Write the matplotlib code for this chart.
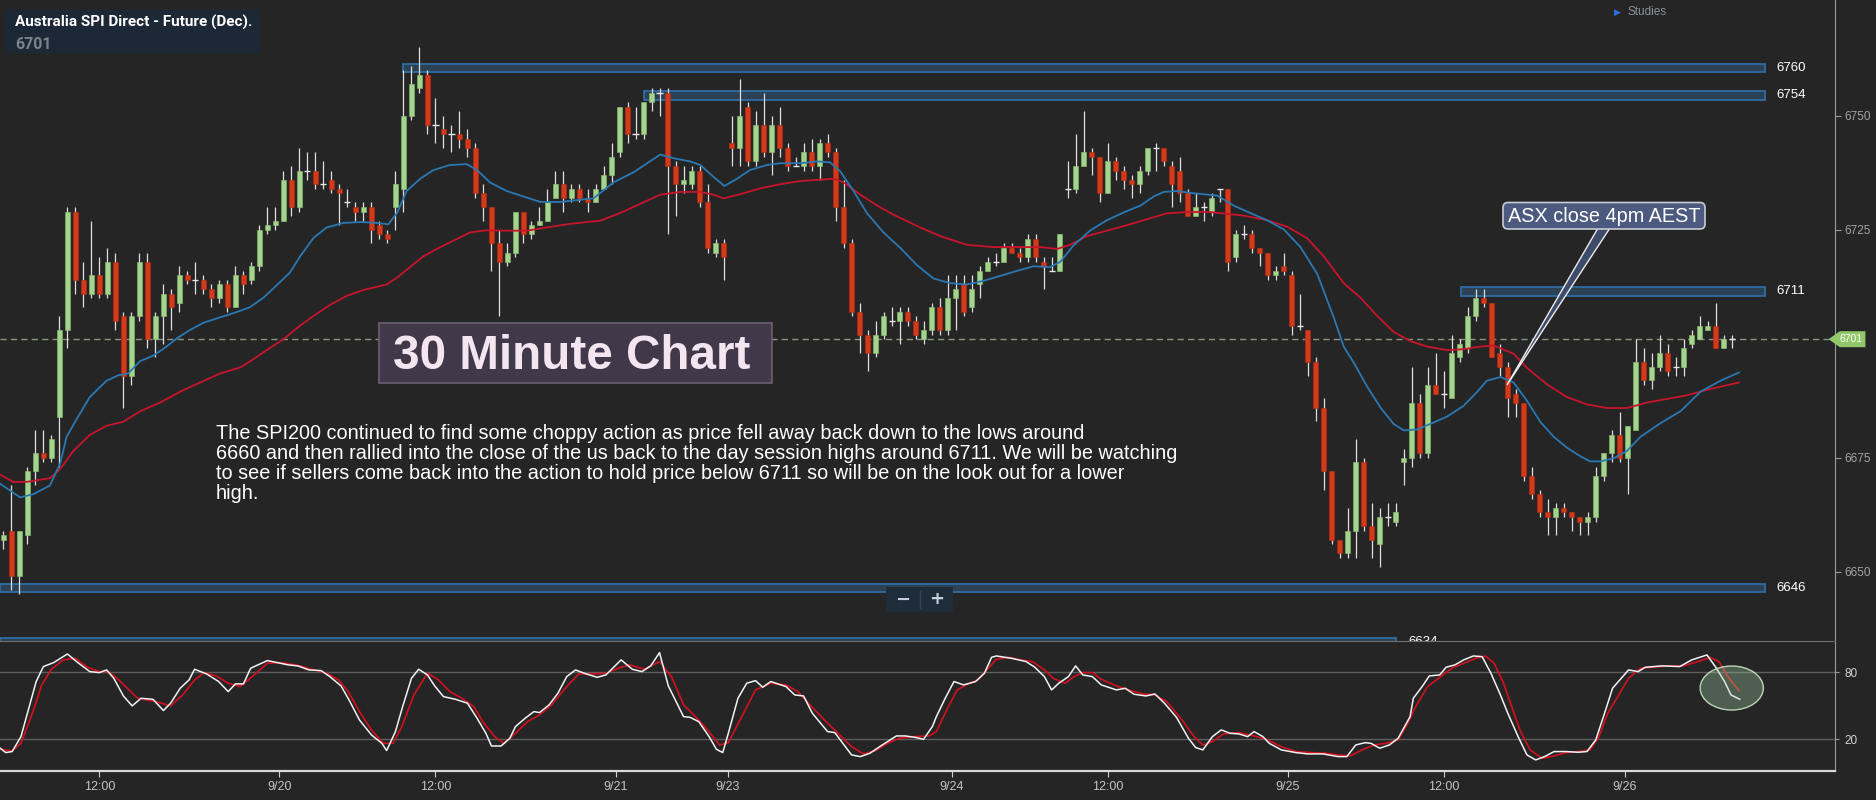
import matplotlib
matplotlib.use("Agg")
import matplotlib.pyplot as plt
from matplotlib.patches import Rectangle, FancyBboxPatch, Polygon, Ellipse
import numpy as np

plt.rcParams['font.family'] = ['Liberation Sans', 'DejaVu Sans']

# ---------------- data (30 minute bars) ----------------
opens = [
    6657, 6659, 6649, 6658, 6672, 6676, 6675, 6684, 6703, 6729,
    6714, 6711, 6715, 6711, 6718, 6706, 6693, 6706, 6718, 6701,
    6706, 6711, 6709, 6715, 6714, 6714, 6712, 6710, 6713, 6708,
    6715, 6714, 6717, 6725, 6726, 6727, 6736, 6730, 6738, 6738,
    6735, 6736, 6734, 6731, 6730, 6729, 6730, 6726, 6724, 6730,
    6734, 6750, 6756, 6759, 6748, 6747, 6746, 6746, 6745, 6743,
    6733, 6730, 6722, 6718, 6720, 6729, 6724, 6726, 6727, 6732,
    6735, 6732, 6734, 6732, 6731, 6734, 6737, 6742, 6752, 6746,
    6746, 6753, 6755, 6755, 6739, 6735, 6735, 6738, 6731, 6720,
    6722, 6744, 6743, 6752, 6740, 6748, 6742, 6748, 6743, 6739,
    6739, 6742, 6739, 6744, 6742, 6730, 6722, 6707, 6702, 6698,
    6702, 6705, 6705, 6707, 6705, 6701, 6703, 6708, 6703, 6710,
    6713, 6708, 6713, 6716, 6718, 6718, 6721, 6720, 6719, 6723,
    6718, 6716, 6716, 6734, 6734, 6739, 6742, 6741, 6733, 6740,
    6738, 6736, 6735, 6738, 6743, 6743, 6739, 6738, 6733, 6728,
    6730, 6729, 6734, 6734, 6719, 6724, 6724, 6721, 6720, 6715,
    6717, 6715, 6704, 6703, 6696, 6686, 6672, 6657, 6654, 6659,
    6674, 6660, 6656, 6662, 6661, 6674, 6675, 6687, 6676, 6691,
    6689, 6688, 6697, 6699, 6706, 6710, 6709, 6698, 6695, 6689,
    6687, 6671, 6667, 6663, 6662, 6664, 6663, 6662, 6661, 6662,
    6671, 6676, 6680, 6675, 6681, 6696, 6692, 6695, 6698, 6695,
    6695, 6700, 6701, 6703, 6704, 6699, 6701]
highs = [
    6659, 6669, 6659, 6673, 6681, 6681, 6680, 6706, 6730, 6730,
    6718, 6727, 6719, 6721, 6720, 6707, 6707, 6720, 6720, 6707,
    6713, 6712, 6717, 6716, 6718, 6715, 6713, 6714, 6714, 6717,
    6716, 6718, 6726, 6730, 6730, 6738, 6739, 6743, 6742, 6742,
    6740, 6738, 6735, 6734, 6731, 6731, 6731, 6727, 6725, 6738,
    6760, 6761, 6765, 6760, 6754, 6750, 6748, 6751, 6747, 6744,
    6735, 6730, 6725, 6722, 6729, 6729, 6727, 6730, 6734, 6738,
    6738, 6735, 6735, 6734, 6735, 6739, 6744, 6752, 6753, 6752,
    6753, 6756, 6756, 6756, 6740, 6739, 6739, 6739, 6735, 6723,
    6723, 6750, 6758, 6753, 6751, 6755, 6750, 6752, 6744, 6741,
    6744, 6745, 6745, 6746, 6743, 6736, 6723, 6709, 6703, 6705,
    6707, 6708, 6708, 6708, 6706, 6705, 6709, 6710, 6715, 6715,
    6715, 6715, 6717, 6719, 6720, 6722, 6722, 6721, 6724, 6724,
    6719, 6719, 6724, 6740, 6746, 6751, 6743, 6741, 6744, 6741,
    6739, 6737, 6739, 6743, 6744, 6743, 6740, 6741, 6734, 6733,
    6731, 6733, 6734, 6734, 6725, 6726, 6725, 6721, 6720, 6717,
    6720, 6716, 6711, 6703, 6697, 6688, 6672, 6657, 6664, 6679,
    6675, 6665, 6664, 6665, 6665, 6677, 6695, 6689, 6695, 6698,
    6694, 6702, 6701, 6708, 6712, 6712, 6709, 6700, 6696, 6690,
    6687, 6673, 6668, 6666, 6665, 6665, 6663, 6662, 6663, 6673,
    6676, 6681, 6685, 6682, 6701, 6699, 6698, 6702, 6700, 6697,
    6701, 6703, 6706, 6705, 6709, 6702, 6702]
lows = [
    6655, 6646, 6645, 6656, 6669, 6674, 6674, 6673, 6699, 6711,
    6708, 6710, 6710, 6710, 6703, 6686, 6691, 6705, 6699, 6697,
    6700, 6703, 6707, 6713, 6711, 6711, 6708, 6709, 6707, 6708,
    6711, 6713, 6716, 6724, 6725, 6727, 6728, 6729, 6736, 6734,
    6734, 6733, 6726, 6730, 6727, 6727, 6722, 6723, 6722, 6725,
    6729, 6749, 6755, 6746, 6744, 6743, 6742, 6743, 6741, 6732,
    6727, 6716, 6706, 6717, 6719, 6722, 6723, 6726, 6727, 6732,
    6729, 6731, 6731, 6729, 6731, 6734, 6735, 6741, 6744, 6745,
    6745, 6751, 6750, 6724, 6728, 6733, 6734, 6730, 6720, 6719,
    6714, 6739, 6739, 6739, 6739, 6741, 6737, 6741, 6738, 6739,
    6738, 6738, 6736, 6741, 6727, 6721, 6706, 6698, 6694, 6697,
    6701, 6704, 6700, 6704, 6701, 6700, 6702, 6702, 6702, 6703,
    6706, 6707, 6710, 6716, 6717, 6718, 6720, 6718, 6718, 6718,
    6712, 6716, 6716, 6732, 6733, 6739, 6737, 6731, 6733, 6736,
    6734, 6732, 6733, 6737, 6738, 6739, 6730, 6731, 6728, 6728,
    6727, 6728, 6731, 6716, 6718, 6723, 6720, 6717, 6714, 6714,
    6715, 6702, 6703, 6693, 6683, 6668, 6656, 6653, 6653, 6653,
    6659, 6653, 6651, 6660, 6660, 6669, 6673, 6675, 6675, 6689,
    6686, 6688, 6696, 6698, 6705, 6708, 6697, 6693, 6684, 6684,
    6670, 6666, 6662, 6658, 6658, 6662, 6659, 6658, 6658, 6661,
    6670, 6674, 6674, 6667, 6681, 6691, 6690, 6694, 6693, 6693,
    6693, 6699, 6701, 6703, 6699, 6699, 6699]
closes = [
    6658, 6649, 6659, 6672, 6676, 6675, 6679, 6703, 6729, 6714,
    6711, 6715, 6711, 6718, 6705, 6693, 6706, 6718, 6701, 6706,
    6711, 6708, 6715, 6714, 6714, 6712, 6710, 6713, 6708, 6715,
    6713, 6717, 6725, 6726, 6727, 6736, 6730, 6738, 6738, 6735,
    6735, 6734, 6733, 6731, 6729, 6730, 6725, 6724, 6723, 6735,
    6750, 6757, 6759, 6748, 6748, 6746, 6746, 6745, 6743, 6733,
    6730, 6722, 6718, 6720, 6729, 6724, 6726, 6727, 6731, 6735,
    6732, 6734, 6732, 6731, 6734, 6737, 6741, 6752, 6746, 6746,
    6753, 6755, 6755, 6739, 6735, 6736, 6738, 6731, 6721, 6722,
    6719, 6743, 6750, 6740, 6748, 6742, 6748, 6743, 6739, 6739,
    6742, 6739, 6744, 6742, 6730, 6722, 6707, 6702, 6698, 6702,
    6706, 6705, 6707, 6705, 6702, 6703, 6708, 6703, 6710, 6712,
    6707, 6712, 6716, 6718, 6718, 6721, 6720, 6719, 6723, 6719,
    6717, 6716, 6724, 6734, 6739, 6742, 6741, 6733, 6740, 6738,
    6736, 6735, 6738, 6743, 6743, 6740, 6735, 6733, 6728, 6730,
    6730, 6732, 6734, 6718, 6724, 6724, 6721, 6720, 6715, 6716,
    6716, 6704, 6704, 6696, 6686, 6672, 6657, 6654, 6659, 6674,
    6660, 6657, 6662, 6662, 6663, 6675, 6687, 6676, 6691, 6689,
    6689, 6698, 6700, 6706, 6710, 6709, 6697, 6695, 6688, 6687,
    6671, 6667, 6663, 6662, 6664, 6663, 6662, 6661, 6662, 6671,
    6676, 6680, 6675, 6682, 6696, 6692, 6695, 6698, 6694, 6695,
    6699, 6702, 6704, 6704, 6699, 6701, 6701]

# moving averages (blue = fast, red = slow), read at bar positions
ma_fast_x = [-0.4, 2.1, 3.75, 5.8, 7.1, 7.9, 9.2, 10.8, 12.9, 14.4,
             15.6, 17.1, 18.75, 20.4, 21.7, 23.3, 25.0, 27.1, 28.75, 30.8,
             32.5, 34.2, 35.8, 37.1, 38.75, 40.4, 42.5, 44.6, 46.7, 48.1,
             49.2, 50.4, 52.1, 53.75, 55.8, 57.9, 59.2, 60.8, 62.9, 65.0,
             67.1, 69.6, 71.7, 73.75, 76.25, 78.75, 80.8, 82.1, 83.75, 85.8,
             87.1, 88.75, 90.1, 91.7, 93.3, 95.4, 97.1, 99.6, 101.7, 103.3,
             104.6, 106.25, 107.9, 110.0, 112.1, 114.2, 116.25, 118.3, 120.4, 122.5,
             124.6, 126.7, 128.75, 130.8, 132.1, 133.75, 135.8, 137.9, 140.4, 142.1,
             143.75, 145.0, 146.7, 148.3, 151.7, 153.75, 155.8, 157.9, 160.0, 162.1,
             164.2, 166.25, 167.5, 168.75, 170.4, 172.1, 173.75, 175.0, 176.7, 178.3,
             180.4, 182.5, 184.2, 185.4, 187.1, 188.75, 190.4, 192.1, 193.75, 195.4,
             197.1, 198.3, 199.6, 201.25, 202.9, 204.6, 207.1, 209.6, 212.1, 214.6, 216.9]
ma_fast_y = [6669.3, 6666.3, 6667.0, 6668.9, 6673.7, 6679.6, 6683.6, 6688.3, 6691.9, 6693.1,
             6693.5, 6696.2, 6697.4, 6699.4, 6701.2, 6703.0, 6704.6, 6705.8, 6706.7, 6708.0,
             6710.1, 6712.9, 6715.6, 6719.2, 6723.2, 6725.5, 6726.5, 6726.7, 6726.5, 6726.2,
             6728.7, 6733.5, 6736.2, 6738.1, 6739.2, 6739.4, 6738.1, 6735.4, 6733.5, 6732.3,
             6731.1, 6731.1, 6731.5, 6731.9, 6735.4, 6737.6, 6740.0, 6741.5, 6740.7, 6740.0,
             6739.2, 6736.6, 6734.6, 6736.2, 6738.1, 6739.2, 6739.6, 6739.6, 6740.0, 6739.8,
             6737.8, 6733.5, 6728.7, 6724.4, 6721.0, 6717.2, 6714.3, 6713.3, 6713.0, 6713.8,
             6714.9, 6716.0, 6717.0, 6716.8, 6718.0, 6721.6, 6724.8, 6727.1, 6729.1, 6730.3,
             6732.3, 6733.3, 6733.5, 6733.1, 6732.5, 6730.3, 6728.7, 6727.1, 6725.1, 6721.2,
             6715.3, 6705.8, 6699.4, 6695.9, 6690.7, 6686.0, 6682.4, 6681.0, 6681.2, 6682.4,
             6684.0, 6686.4, 6689.5, 6691.9, 6692.7, 6691.5, 6687.5, 6682.8, 6679.6, 6677.2,
             6675.3, 6674.2, 6674.2, 6674.9, 6676.5, 6679.6, 6682.6, 6685.2, 6689.5, 6691.9, 6693.7]
ma_slow_x = [-0.4, 1.25, 2.9, 5.8, 7.1, 8.75, 10.8, 12.9, 15.0, 17.1,
             19.6, 22.1, 24.6, 27.1, 29.6, 31.25, 32.9, 35.0, 37.1, 38.75,
             40.8, 42.9, 45.0, 47.9, 49.2, 50.8, 52.5, 54.6, 56.7, 58.3,
             60.4, 62.9, 65.4, 67.9, 70.4, 72.9, 74.6, 77.1, 79.6, 82.1,
             84.6, 87.1, 88.75, 90.0, 92.1, 94.6, 97.1, 99.6, 102.1, 103.75,
             105.0, 107.1, 109.2, 111.25, 114.6, 117.1, 120.4, 123.75, 126.7, 129.6,
             131.7, 133.3, 135.4, 137.9, 140.4, 142.9, 145.4, 148.0, 150.8, 155.0,
             157.9, 160.4, 162.9, 165.0, 167.5, 169.6, 171.7, 173.75, 175.8, 177.9,
             180.4, 182.5, 184.6, 186.25, 188.75, 190.4, 192.9, 195.4, 197.9, 200.4,
             202.9, 205.4, 207.9, 210.4, 212.9, 215.4, 216.9]
ma_slow_y = [6671.3, 6669.7, 6669.7, 6670.5, 6672.5, 6676.5, 6680.0, 6682.0, 6682.9, 6685.2,
             6687.1, 6689.5, 6691.5, 6693.5, 6694.8, 6696.6, 6698.6, 6701.0, 6704.0, 6706.1,
             6708.5, 6710.5, 6711.8, 6713.0, 6714.5, 6716.8, 6719.2, 6721.2, 6723.0, 6724.4,
             6724.9, 6724.8, 6724.8, 6725.5, 6726.2, 6726.7, 6727.0, 6728.7, 6730.7, 6732.7,
             6733.3, 6733.3, 6732.7, 6731.9, 6732.8, 6734.1, 6735.0, 6735.7, 6736.0, 6736.2,
             6735.4, 6732.7, 6730.3, 6728.3, 6725.5, 6723.6, 6721.7, 6721.2, 6721.2, 6721.2,
             6720.8, 6721.7, 6723.6, 6724.8, 6726.0, 6727.3, 6728.6, 6728.9, 6728.9, 6728.1,
             6727.1, 6725.7, 6723.2, 6719.2, 6713.3, 6710.1, 6706.1, 6702.6, 6700.6, 6699.4,
             6698.6, 6698.8, 6699.4, 6699.6, 6697.8, 6694.7, 6691.1, 6688.3, 6686.7, 6685.9,
             6685.9, 6687.1, 6687.9, 6688.7, 6689.9, 6690.9, 6691.5]

# stochastic oscillator (%K white, %D red)
stoch_k_x = [-0.4, 0.3, 1.1, 2.2, 4.1, 5.0, 6.3, 8.0, 9.3, 10.8,
             12.0, 12.9, 13.8, 15.0, 16.1, 17.2, 18.7, 20.0, 20.9, 22.1,
             23.2, 23.9, 25.4, 26.9, 28.1, 29.0, 30.0, 30.9, 33.0, 34.2,
             35.6, 36.8, 38.2, 39.7, 40.8, 42.2, 43.2, 44.5, 46.0, 47.3,
             47.9, 49.0, 49.9, 51.0, 51.9, 53.0, 53.9, 55.0, 56.5, 58.0,
             59.2, 60.3, 61.0, 62.2, 63.3, 64.0, 65.2, 66.3, 67.0, 68.2,
             69.3, 70.4, 71.5, 72.6, 74.2, 75.3, 77.2, 78.6, 79.8, 80.9,
             82.0, 83.1, 85.0, 85.8, 86.9, 88.2, 89.1, 89.9, 90.6, 91.8,
             92.9, 94.0, 94.9, 95.9, 97.8, 98.9, 100.0, 101.1, 103.0, 103.9,
             104.9, 106.0, 107.1, 108.3, 109.7, 111.6, 112.7, 113.9, 115.0, 116.1,
             116.6, 117.7, 118.8, 120.0, 121.5, 122.6, 123.5, 124.1, 126.0, 127.8,
             128.9, 130.1, 131.0, 131.9, 133.1, 134.0, 134.9, 136.1, 137.2, 139.1,
             140.2, 141.3, 142.8, 143.9, 145.1, 146.6, 148.1, 149.0, 149.9, 151.1,
             152.2, 153.3, 154.4, 155.5, 156.3, 157.4, 158.2, 159.7, 161.5, 163.0,
             164.9, 166.8, 167.9, 169.0, 170.2, 170.9, 172.0, 173.2, 174.3, 175.8,
             176.2, 177.3, 178.2, 179.5, 180.3, 181.4, 182.5, 183.7, 184.8, 185.9,
             187.0, 188.1, 189.3, 190.4, 191.5, 192.6, 193.8, 195.3, 196.8, 197.9,
             199.0, 200.1, 201.1, 202.0, 203.1, 204.3, 205.2, 207.3, 209.5, 211.0,
             212.9, 214.0, 215.1, 215.9, 217.0]
stoch_k_y = [12.0, 8.1, 9.0, 22.4, 71.7, 85.1, 88.7, 96.4, 88.7, 80.6,
             79.7, 82.1, 74.6, 58.8, 49.9, 56.7, 55.8, 45.7, 52.3, 65.7,
             73.1, 82.7, 78.5, 71.7, 62.7, 69.6, 69.6, 83.6, 90.5, 88.7,
             86.6, 85.7, 82.1, 81.5, 76.1, 67.8, 55.2, 37.3, 23.9, 16.4,
             9.9, 26.9, 49.3, 74.6, 82.7, 77.6, 67.8, 58.2, 55.8, 52.3,
             38.8, 25.4, 14.0, 14.0, 20.9, 31.4, 38.8, 44.8, 43.9, 50.8,
             61.2, 76.1, 82.1, 79.1, 75.5, 77.6, 91.1, 82.7, 80.6, 85.7,
             97.6, 67.8, 40.3, 39.7, 35.8, 22.4, 11.1, 8.1, 25.4, 56.7,
             70.2, 72.5, 66.6, 71.7, 67.2, 59.7, 58.8, 43.3, 26.9, 26.0,
             16.4, 6.0, 4.5, 7.5, 14.3, 23.0, 23.0, 21.8, 20.0, 31.4,
             40.3, 56.7, 71.7, 68.7, 71.7, 79.1, 93.4, 94.6, 92.5, 89.6,
             84.5, 76.1, 64.2, 70.2, 76.1, 85.7, 77.6, 76.1, 68.7, 64.2,
             65.7, 60.3, 58.8, 60.6, 52.3, 39.7, 20.9, 12.6, 10.5, 22.4,
             28.4, 25.4, 24.8, 22.4, 26.9, 22.4, 16.4, 10.5, 8.1, 6.9,
             6.9, 4.5, 4.5, 14.9, 17.0, 16.4, 12.0, 14.9, 20.9, 40.3,
             56.7, 67.2, 76.7, 77.6, 84.5, 86.6, 91.1, 94.6, 94.0, 79.1,
             61.2, 41.8, 22.4, 6.0, 1.5, 4.5, 9.0, 9.0, 8.4, 9.0,
             19.4, 43.3, 65.7, 73.1, 82.1, 80.6, 84.5, 85.7, 85.1, 91.1,
             95.5, 84.5, 71.7, 59.7, 55.8]
stoch_d_x = [-0.4, 1.1, 2.2, 3.7, 4.8, 6.0, 7.5, 9.0, 10.5, 12.0,
             13.1, 14.2, 15.7, 16.8, 19.1, 20.9, 22.4, 23.9, 25.1, 26.6,
             28.1, 29.6, 31.1, 33.0, 34.8, 37.1, 38.5, 40.4, 41.9, 43.1,
             44.5, 46.0, 47.5, 48.7, 49.8, 51.3, 53.0, 54.3, 55.8, 57.3,
             58.8, 59.9, 61.4, 62.5, 64.0, 65.5, 67.0, 68.5, 70.4, 71.9,
             73.8, 75.3, 77.2, 78.3, 80.1, 82.0, 83.5, 85.0, 86.5, 88.0,
             89.5, 90.6, 92.5, 94.0, 95.9, 97.8, 99.3, 100.8, 102.6, 104.1,
             106.0, 107.5, 109.0, 110.5, 112.0, 113.9, 115.7, 116.6, 118.1, 119.2,
             120.3, 121.8, 122.9, 124.1, 125.6, 127.1, 128.6, 130.1, 131.2, 132.7,
             133.8, 134.9, 136.1, 137.2, 139.1, 140.6, 142.4, 143.9, 145.4, 147.3,
             148.8, 149.9, 151.1, 152.5, 154.4, 156.3, 157.8, 159.7, 161.5, 163.4,
             165.3, 166.8, 168.3, 169.8, 171.3, 172.8, 174.3, 175.4, 176.5, 178.0,
             179.5, 181.0, 182.5, 184.0, 185.2, 186.3, 187.4, 188.5, 189.6, 190.8,
             192.3, 193.8, 195.3, 196.8, 198.3, 199.4, 200.5, 202.0, 203.1, 204.6,
             206.1, 208.0, 209.9, 211.8, 213.3, 214.4, 215.5, 216.9]
stoch_d_y = [11.1, 9.6, 16.4, 44.8, 68.7, 82.7, 91.1, 92.5, 84.5, 80.6,
             80.6, 74.6, 64.2, 56.7, 53.7, 49.9, 59.7, 73.1, 79.7, 76.7,
             70.2, 67.2, 76.1, 88.1, 88.7, 85.7, 82.7, 79.1, 73.1, 62.7,
             44.8, 28.4, 16.4, 16.4, 31.4, 59.7, 79.1, 73.7, 62.7, 56.7,
             49.3, 35.8, 22.4, 16.4, 25.4, 35.8, 41.8, 50.8, 67.2, 78.5,
             78.5, 79.1, 84.5, 86.6, 82.7, 89.6, 76.1, 50.8, 40.3, 28.4,
             14.9, 17.0, 43.3, 64.2, 70.2, 68.7, 62.7, 50.8, 37.3, 26.9,
             13.4, 6.9, 9.9, 16.4, 20.9, 22.4, 23.0, 26.9, 49.3, 64.2,
             68.7, 73.1, 82.1, 91.7, 93.4, 91.1, 89.6, 82.1, 74.6, 70.2,
             76.1, 79.7, 79.7, 73.7, 67.8, 64.2, 60.6, 59.7, 53.7, 37.3,
             22.4, 14.9, 17.9, 24.8, 26.0, 23.0, 20.0, 13.4, 9.0, 8.1,
             7.5, 6.0, 5.1, 10.5, 14.9, 16.4, 19.4, 32.8, 49.3, 67.2,
             75.5, 83.6, 88.1, 92.5, 94.6, 88.1, 71.7, 49.3, 26.9, 10.5,
             3.0, 5.1, 8.1, 9.0, 10.5, 22.4, 43.3, 61.2, 74.6, 83.6,
             84.5, 85.7, 85.7, 89.6, 93.4, 89.6, 76.1, 63.6]

levels = [6760, 6754, 6711, 6646, 6634]
level_start = [50.0, 80.0, 182.1, -0.42, -0.42]
level_end = [220.1, 220.1, 220.1, 220.1, 174.1]
last_price = 6701
price_ticks = [6650, 6675, 6725, 6750]
stoch_levels = [20, 80]

tick_pos = [12.0, 34.5, 54.0, 76.5, 90.5, 118.5, 138.0, 160.5, 180.0, 202.6]
tick_labels = ['12:00', '9/20', '12:00', '9/21', '9/23', '9/24', '12:00', '9/25', '12:00', '9/26']

title = 'Australia SPI Direct - Future (Dec).'
chart_label = '30 Minute Chart'
comment_lines = [
    'The SPI200 continued to find some choppy action as price fell away back down to the lows around',
    '6660 and then rallied into the close of the us back to the day session highs around 6711. We will be watching',
    'to see if sellers come back into the action to hold price below 6711 so will be on the look out for a lower',
    'high.',
]
callout = 'ASX close 4pm AEST'

# ---------------- figure ----------------
W, H = 1876, 800
BG = '#252525'
GREEN = '#a2d48c'
RED = '#d5381a'
fig = plt.figure(figsize=(W / 100, H / 100), dpi=100, facecolor=BG)

XMIN, XMAX = -0.42, 228.9
ax = fig.add_axes([0, 1 - 641 / H, 1835 / W, 641 / H], facecolor=BG)
ax2 = fig.add_axes([0, 1 - 771 / H, 1835 / W, 130 / H], facecolor=BG)

# ---- main price panel
ax.set_xlim(XMIN, XMAX)
ax.set_ylim(6634.8, 6775.4)
for s in ['top', 'left', 'bottom']:
    ax.spines[s].set_visible(False)
ax.spines['right'].set_color('#9a9a9a')
ax.yaxis.tick_right()
ax.set_yticks(price_ticks)
ax.set_yticklabels([str(t) for t in price_ticks])
ax.tick_params(axis='y', colors='#9a9a9a', labelcolor='#a3a3a3', labelsize=8.5, length=4, pad=3)
ax.set_xticks([])

for lv, s, e in zip(levels, level_start, level_end):
    ax.add_patch(Rectangle((s, lv - 0.45), e - s, 1.85, facecolor='#2d4155',
                           edgecolor='#2f6ca4', lw=1.3, zorder=1))
    ax.text(e + 1.5, lv + 0.5, str(lv), color='white', fontsize=9.5,
            va='center', ha='left', zorder=6)

ax.plot([XMIN, 228.1], [last_price, last_price], color='#8a9682', lw=1.0,
        ls=(0, (4.5, 3)), zorder=1.5)

o = np.array(opens, float)
h = np.array(highs, float)
l = np.array(lows, float)
c = np.array(closes, float)
idx = np.arange(len(o))
up = c > o
dn = c < o
eq = c == o
ax.vlines(idx, l, h, color='#dedede', lw=0.9, zorder=2)
ax.bar(idx[up], (c - o)[up], bottom=o[up], width=0.6, color=GREEN,
       edgecolor='#8cc076', lw=0.4, zorder=3)
ax.bar(idx[dn], (o - c)[dn], bottom=c[dn], width=0.6, color=RED,
       edgecolor='#b52c10', lw=0.4, zorder=3)
ax.hlines(c[eq], idx[eq] - 0.38, idx[eq] + 0.38, color='#e8e8e8', lw=1.0, zorder=3)

ax.plot(ma_slow_x, ma_slow_y, color='#c8152b', lw=1.3, zorder=4)
ax.plot(ma_fast_x, ma_fast_y, color='#2a78b3', lw=1.3, zorder=4)

# last price marker
ax.add_patch(Polygon([(228.1, last_price), (229.5, last_price + 1.75), (232.7, last_price + 1.75),
                      (232.7, last_price - 1.75), (229.5, last_price - 1.75)],
                     closed=True, facecolor='#93c86a', edgecolor='none', clip_on=False, zorder=7))
ax.text(230.9, last_price, str(last_price), color='white', fontsize=7.5, ha='center',
        va='center', clip_on=False, zorder=8)

# ---- stochastic panel
ax2.set_xlim(XMIN, XMAX)
ax2.set_ylim(-8.4, 108)
for lv in stoch_levels:
    ax2.axhline(lv, color='#5e5e5e', lw=1, zorder=1)
ax2.plot(stoch_d_x, stoch_d_y, color='#d3111f', lw=1.2, zorder=3)
ax2.plot(stoch_k_x, stoch_k_y, color='#f2f2f2', lw=1.1, zorder=4)
ax2.add_patch(Ellipse((216.0, 65.9), 7.9, 39.4, facecolor=(0.65, 0.84, 0.65, 0.33),
                      edgecolor=(0.78, 0.9, 0.78, 0.9), lw=1.0, zorder=5))
ax2.spines['left'].set_visible(False)
ax2.spines['top'].set_color('#707070')
ax2.spines['right'].set_color('#9a9a9a')
ax2.spines['bottom'].set_color('#d8d8d8')
ax2.spines['bottom'].set_linewidth(1.6)
ax2.yaxis.tick_right()
ax2.set_yticks(stoch_levels)
ax2.set_yticklabels([str(v) for v in stoch_levels])
ax2.tick_params(axis='y', colors='#9a9a9a', labelcolor='#d4d4d4', labelsize=8.5, length=3, pad=4)
ax2.set_xticks(tick_pos)
ax2.set_xticklabels(tick_labels)
ax2.tick_params(axis='x', colors='#d0d0d0', labelcolor='#c4c4c4', labelsize=9, length=4, pad=3)

# ---- overlay (pixel coordinates) for annotations
ov = fig.add_axes([0, 0, 1, 1], zorder=20)
ov.set_xlim(0, W)
ov.set_ylim(H, 0)
ov.axis('off')
ov.patch.set_alpha(0)

ov.add_patch(Rectangle((5, 10), 255, 43, facecolor='#1c2835', edgecolor='none'))
ov.text(15, 27, title, color='white', fontsize=11, fontweight='bold',
        family=['Roboto', 'DejaVu Sans'], va='baseline')
ov.text(15, 49, str(last_price), color='#7a828b', fontsize=11.5, fontweight='bold',
        family=['Roboto', 'DejaVu Sans'], va='baseline')

ov.text(1614, 12, '\u25B6', color='#2f6de0', fontsize=6.5, va='center', family=['DejaVu Sans'])
ov.text(1627, 12, 'Studies', color='#8c9299', fontsize=8.5, va='center')

ov.add_patch(Rectangle((379, 323), 393, 60, facecolor='#41384a', edgecolor='#6d5f74', lw=1.2))
ov.text(393, 369, chart_label, color='#f4e6f1', fontsize=34.3, fontweight='bold', va='baseline')

for k, line in enumerate(comment_lines):
    ov.text(216, 439 + 20 * k, line, color='white', fontsize=14.3, va='baseline')

ov.add_patch(Polygon([(1598, 228), (1610, 228), (1507, 385)], closed=True,
                     facecolor='#3e4c6c', edgecolor='#ececec', lw=1.0))
ov.add_patch(FancyBboxPatch((1503, 202.5), 202, 26.5, boxstyle='round,pad=0,rounding_size=5',
                            facecolor='#4b5a7e', edgecolor='#c9ccd6', lw=1.2))
ov.text(1604, 216.5, callout, color='white', fontsize=14.3, ha='center', va='center')

ov.add_patch(Rectangle((886, 587), 67, 25, facecolor='#1f2c3a', edgecolor='none'))
ov.plot([920, 920], [591, 608], color='#34424f', lw=1)
ov.text(903, 599.5, '\u2212', color='#c5ced8', fontsize=13, fontweight='bold', ha='center', va='center',
        family=['DejaVu Sans'])
ov.text(937, 599.5, '+', color='#c5ced8', fontsize=13, fontweight='bold', ha='center', va='center',
        family=['DejaVu Sans'])

fig.savefig('out.png', dpi=100, facecolor=BG)
